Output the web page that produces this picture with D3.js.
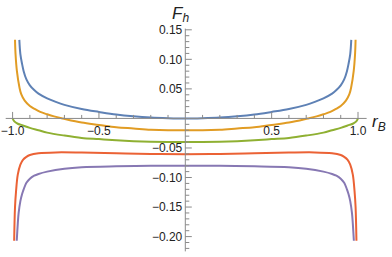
<!DOCTYPE html>
<html><head><meta charset="utf-8">
<script src="https://cdn.jsdelivr.net/npm/d3@7"></script>
<style>body{margin:0;background:#fff}svg{display:block}</style>
</head><body>
<svg id="c" width="392" height="257"></svg>
<script>
// Data (x = r_B, y = F_h)
const blueX   = [-0.961,-0.955,-0.945,-0.936,-0.92,-0.90,-0.875,-0.85,-0.80,-0.75,-0.70,-0.60,-0.50,-0.40,-0.30,-0.20,-0.10,0,0.10,0.20,0.30,0.40,0.50,0.60,0.70,0.75,0.80,0.85,0.875,0.90,0.92,0.936,0.945,0.955,0.961];
const blueY   = [0.133,0.109,0.092,0.080,0.066,0.056,0.048,0.042,0.034,0.028,0.023,0.016,0.011,0.0065,0.0035,0.0015,0.0005,0.0,0.0005,0.0015,0.0035,0.0065,0.011,0.016,0.023,0.028,0.034,0.042,0.048,0.056,0.066,0.080,0.092,0.109,0.133];

const orangeX = [-0.986,-0.983,-0.975,-0.96,-0.95,-0.93,-0.90,-0.87,-0.84,-0.80,-0.76,-0.71,-0.60,-0.50,-0.40,-0.30,-0.20,-0.10,0,0.10,0.20,0.30,0.40,0.50,0.60,0.71,0.76,0.80,0.84,0.87,0.90,0.93,0.95,0.96,0.975,0.983,0.986];
const orangeY = [0.133,0.109,0.080,0.052,0.041,0.030,0.021,0.0156,0.011,0.007,0.0035,0.0,-0.007,-0.011,-0.015,-0.017,-0.019,-0.020,-0.020,-0.020,-0.019,-0.017,-0.015,-0.011,-0.007,0.0,0.0035,0.007,0.011,0.0156,0.021,0.030,0.041,0.052,0.080,0.109,0.133];

const greenX  = [-1.0,-0.99,-0.97,-0.95,-0.90,-0.85,-0.80,-0.70,-0.60,-0.50,-0.40,-0.30,-0.20,-0.10,0,0.10,0.20,0.30,0.40,0.50,0.60,0.70,0.80,0.85,0.90,0.95,0.97,0.99,1.0];
const greenY  = [0.0,-0.005,-0.009,-0.011,-0.016,-0.020,-0.024,-0.029,-0.033,-0.035,-0.037,-0.0385,-0.0395,-0.040,-0.040,-0.040,-0.0395,-0.0385,-0.037,-0.035,-0.033,-0.029,-0.024,-0.020,-0.016,-0.011,-0.009,-0.005,0.0];

const redX    = [-0.991,-0.986,-0.98,-0.97,-0.955,-0.94,-0.92,-0.90,-0.85,-0.75,-0.60,-0.40,-0.20,0,0.20,0.40,0.60,0.75,0.85,0.90,0.92,0.94,0.955,0.97,0.98,0.986,0.991];
const redY    = [-0.207,-0.15,-0.123,-0.095,-0.078,-0.070,-0.065,-0.062,-0.059,-0.0575,-0.0578,-0.059,-0.060,-0.0605,-0.060,-0.059,-0.0578,-0.0575,-0.059,-0.062,-0.065,-0.070,-0.078,-0.095,-0.123,-0.15,-0.207];

const purpleX = [-0.976,-0.97,-0.965,-0.955,-0.945,-0.936,-0.92,-0.90,-0.875,-0.85,-0.80,-0.70,-0.60,-0.40,-0.20,0,0.20,0.40,0.60,0.70,0.80,0.85,0.875,0.90,0.92,0.936,0.945,0.955,0.965,0.97,0.976];
const purpleY = [-0.207,-0.178,-0.16,-0.14,-0.128,-0.12,-0.109,-0.102,-0.097,-0.094,-0.090,-0.085,-0.0825,-0.081,-0.0803,-0.080,-0.0803,-0.081,-0.0825,-0.085,-0.090,-0.094,-0.097,-0.102,-0.109,-0.12,-0.128,-0.14,-0.16,-0.178,-0.207];

const xMajor = [-1.0,-0.5,0.5,1.0];
const xMajorLabels = ["\u22121.0","\u22120.5","0.5","1.0"];
const yMajor = [0.15,0.10,0.05,-0.05,-0.10,-0.15,-0.20];
const yMajorLabels = ["0.15","0.10","0.05","\u22120.05","\u22120.10","\u22120.15","\u22120.20"];

const seriesColors = ["#5E81B5","#E19C24","#8FB032","#EB6235","#8778B3"];

const svg = d3.select("#c");
const x = d3.scaleLinear().domain([-1,1]).range([12.6,358]);
const y = d3.scaleLinear().domain([0.15,-0.20]).range([29.8,236.6]);

const axisCol = "#8a8a8a";
const g = svg.append("g");

// curves
const series = [[blueX,blueY],[orangeX,orangeY],[greenX,greenY],[redX,redY],[purpleX,purpleY]];
const line = d3.line().x(d=>x(d[0])).y(d=>y(d[1])).curve(d3.curveCatmullRom.alpha(0.5));
series.forEach((s,i)=>{
  const pts = s[0].map((v,j)=>[v,s[1][j]]);
  g.append("path").attr("d",line(pts)).attr("fill","none")
   .attr("stroke",seriesColors[i]).attr("stroke-width",2);
});

// axes
const x0 = x(0), y0 = y(0);
g.append("line").attr("x1",x(-1.04)).attr("x2",x(1.05)).attr("y1",y0).attr("y2",y0).attr("stroke",axisCol).attr("stroke-width",1);
g.append("line").attr("x1",x0).attr("x2",x0).attr("y1",y(0.152)).attr("y2",y(-0.225)).attr("stroke",axisCol).attr("stroke-width",1);

// x ticks
const xMinor = d3.range(-10,11).filter(k=>k!==0 && k%5!==0).map(k=>k/10);
xMinor.forEach(v=>g.append("line").attr("x1",x(v)).attr("x2",x(v)).attr("y1",y0).attr("y2",y0-3.5).attr("stroke",axisCol));
xMajor.forEach(v=>g.append("line").attr("x1",x(v)).attr("x2",x(v)).attr("y1",y0).attr("y2",y0-6.5).attr("stroke",axisCol));
xMajor.forEach((v,i)=>g.append("text").attr("x",x(v)).attr("y",y0+16.5).attr("text-anchor","middle")
  .attr("font-family","Liberation Sans, Arial, sans-serif").attr("font-size",12).attr("fill","#222").text(xMajorLabels[i]));

// y ticks
const yMinor = d3.range(-22,16).filter(k=>k!==0 && k%5!==0).map(k=>k/100);
yMinor.forEach(v=>g.append("line").attr("x1",x0).attr("x2",x0+4).attr("y1",y(v)).attr("y2",y(v)).attr("stroke",axisCol));
yMajor.forEach(v=>g.append("line").attr("x1",x0).attr("x2",x0+6.5).attr("y1",y(v)).attr("y2",y(v)).attr("stroke",axisCol));
yMajor.forEach((v,i)=>g.append("text").attr("x",x0-3).attr("y",y(v)+4.2).attr("text-anchor","end")
  .attr("font-family","Liberation Sans, Arial, sans-serif").attr("font-size",12).attr("fill","#222").text(yMajorLabels[i]));

// axis labels
const yl = g.append("text").attr("x",172).attr("y",18.5).attr("font-family","Liberation Sans, Arial, sans-serif")
  .attr("font-style","italic").attr("font-size",17).attr("fill","#222");
yl.append("tspan").text("F");
yl.append("tspan").attr("font-size",12).attr("dy",3).text("h");
const xl = g.append("text").attr("x",372).attr("y",126.5).attr("font-family","Liberation Sans, Arial, sans-serif")
  .attr("font-style","italic").attr("font-size",17).attr("fill","#222");
xl.append("tspan").text("r");
xl.append("tspan").attr("font-size",12).attr("dy",4).text("B");
</script>
</body></html>
